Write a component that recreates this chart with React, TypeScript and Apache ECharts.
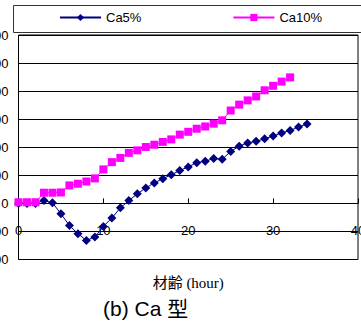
import { useEffect, useRef } from "react";
import * as echarts from "echarts";

// Age of the specimen (hours) and measured values for each mix
const ca5Hours = [0, 1, 2, 3, 4, 5, 6, 7, 8, 9, 10, 11, 12, 13, 14, 15, 16, 17, 18, 19, 20, 21, 22, 23, 24, 25, 26, 27, 28, 29, 30, 31, 32, 33, 34];
const ca5Values = [0, 0, 0, 10, 2, -37, -79, -108, -132, -120, -82, -52, -16, 10, 34, 55, 73, 88, 102, 117, 130, 145, 150, 160, 157, 185, 204, 215, 221, 230, 240, 251, 260, 272, 283];

const ca10Hours = [0, 1, 2, 3, 4, 5, 6, 7, 8, 9, 10, 11, 12, 13, 14, 15, 16, 17, 18, 19, 20, 21, 22, 23, 24, 25, 26, 27, 28, 29, 30, 31, 32];
const ca10Values = [4, 4, 4, 38, 38, 39, 64, 70, 78, 89, 121, 147, 162, 180, 189, 201, 209, 219, 228, 245, 255, 266, 274, 284, 296, 331, 352, 367, 381, 403, 419, 434, 449];

const seriesNames = ["Ca5%", "Ca10%"];
const xRange = { min: 0, max: 40, step: 10 };
const yRange = { min: -200, max: 600, step: 100 };
const axisTitle = "材齢 (hour)";
const chartTitle = "(b) Ca 型";

const SANS = "'Liberation Sans', Arial, 'Noto Sans CJK JP', sans-serif";
const SERIF = "'Liberation Serif', 'Times New Roman', 'Noto Sans CJK JP', serif";

const WIDTH = 361;
const HEIGHT = 323;
const GRID = { left: 18.5, right: 3, top: 35, bottom: 63.5 };

export default function App() {
  const ref = useRef<HTMLDivElement>(null);

  useEffect(() => {
    if (!ref.current) return;
    const chart = echarts.init(ref.current, null, { renderer: "svg" });

    // The horizontal axis crosses the vertical one at zero: lift it from the
    // bottom of the plot by the share of the range that lies below zero.
    const plotHeight = HEIGHT - GRID.top - GRID.bottom;
    const zeroLift = (plotHeight * (0 - yRange.min)) / (yRange.max - yRange.min);

    chart.setOption({
      animation: false,
      backgroundColor: "#ffffff",
      title: {
        text: chartTitle,
        left: 103,
        top: 298,
        padding: 0,
        textStyle: { fontSize: 21, fontWeight: "normal", color: "#000", fontFamily: SANS },
      },
      legend: {
        data: seriesNames,
        left: 59,
        top: 11,
        padding: 0,
        itemWidth: 41,
        itemHeight: 9,
        itemGap: 91,
        textStyle: { fontSize: 13, color: "#000", fontFamily: SANS },
      },
      graphic: [
        {
          type: "rect",
          shape: { x: 13.5, y: 5.5, width: 360, height: 27 },
          style: { fill: "none", stroke: "#333", lineWidth: 1 },
          silent: true,
        },
      ],
      grid: {
        ...GRID,
        containLabel: false,
        outerBoundsMode: "none",
        show: true,
        borderColor: "#000",
        borderWidth: 1,
      },
      xAxis: {
        type: "value",
        position: "bottom",
        offset: -zeroLift,
        min: xRange.min,
        max: xRange.max,
        interval: xRange.step,
        name: axisTitle,
        nameLocation: "middle",
        nameGap: 72,
        nameTextStyle: { fontSize: 15, color: "#000", fontFamily: SERIF },
        axisLine: { onZero: false, lineStyle: { color: "#000", width: 1 } },
        axisTick: { show: true, inside: true, length: 5, lineStyle: { color: "#000" } },
        axisLabel: {
          margin: 21,
          fontSize: 13,
          color: "#000",
          fontFamily: SANS,
          showMinLabel: true,
          showMaxLabel: true,
        },
        splitLine: { show: false },
      },
      yAxis: {
        type: "value",
        min: yRange.min,
        max: yRange.max,
        interval: yRange.step,
        axisLine: { show: false, onZero: false },
        axisTick: { show: false },
        axisLabel: { margin: 10, fontSize: 13, color: "#000", fontFamily: SANS },
        splitLine: { show: true, lineStyle: { color: "#000", width: 1 } },
      },
      series: [
        {
          name: seriesNames[0],
          type: "line",
          data: ca5Hours.map((h, i) => [h, ca5Values[i]]),
          symbol: "diamond",
          symbolSize: 9,
          clip: false,
          itemStyle: { color: "#000080" },
          lineStyle: { color: "#000080", width: 1 },
        },
        {
          name: seriesNames[1],
          type: "line",
          data: ca10Hours.map((h, i) => [h, ca10Values[i]]),
          symbol: "rect",
          symbolSize: 8,
          clip: false,
          itemStyle: { color: "#FF00FF" },
          lineStyle: { color: "#FF00FF", width: 1 },
        },
      ],
    });
    return () => chart.dispose();
  }, []);

  return (
    <div
      ref={ref}
      style={{ position: "fixed", left: 0, top: 0, width: WIDTH, height: HEIGHT, background: "#fff" }}
    />
  );
}
